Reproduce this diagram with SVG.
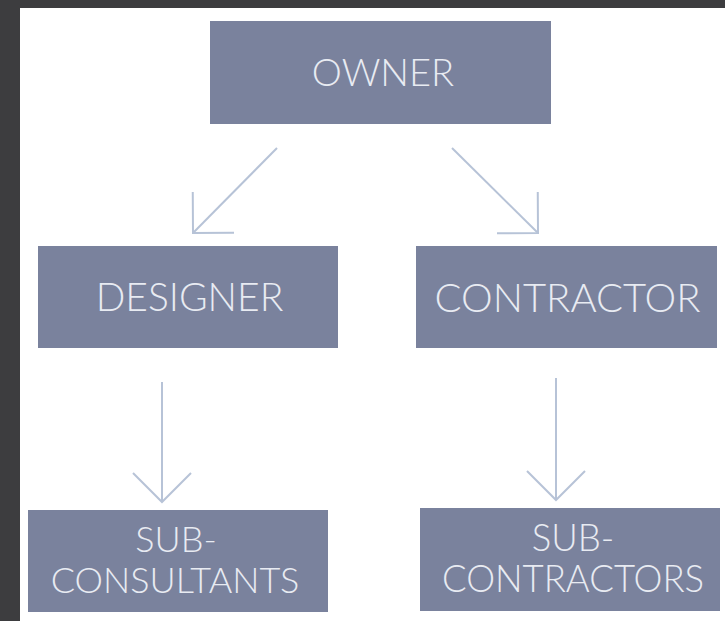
<svg xmlns="http://www.w3.org/2000/svg" width="725" height="621" viewBox="0 0 725 621">
  <defs>
    <style>
      .box { fill: #7a829d; }
      .lbl { font-family: "Lato", "Liberation Sans", sans-serif; font-weight: 300; fill: #e8ebf2; text-anchor: middle; }
      .conn { fill: none; stroke: #b7c3d7; stroke-width: 2; }
    </style>
    <marker id="chev" markerUnits="userSpaceOnUse" viewBox="-31 -31 33 62" refX="0" refY="0" markerWidth="33" markerHeight="62" orient="auto">
      <path d="M-29,-29 L0,0 L-29,29" fill="none" stroke="#b7c3d7" stroke-width="2"/>
    </marker>
  </defs>
  <rect x="0" y="0" width="725" height="621" fill="#ffffff"/>
  <rect x="0" y="0" width="725" height="8" fill="#3d3d3f"/>
  <rect x="0" y="0" width="20" height="621" fill="#3d3d3f"/>

  <g id="connectors">
    <path class="conn" d="M277,148 L193,233" marker-end="url(#chev)"/>
    <path class="conn" d="M452,148 L538,233" marker-end="url(#chev)"/>
    <path class="conn" d="M162,382 L162,502" marker-end="url(#chev)"/>
    <path class="conn" d="M556,378 L556,500" marker-end="url(#chev)"/>
  </g>

  <g id="owner">
    <rect class="box" x="210" y="21" width="341" height="103"/>
    <text class="lbl" x="383" y="86" font-size="38">OWNER</text>
  </g>
  <g id="designer">
    <rect class="box" x="38" y="246" width="300" height="102"/>
    <text class="lbl" x="189.5" y="311" font-size="39">DESIGNER</text>
  </g>
  <g id="contractor">
    <rect class="box" x="416" y="246" width="301" height="102"/>
    <text class="lbl" x="567.5" y="312" font-size="40">CONTRACTOR</text>
  </g>
  <g id="subconsultants">
    <rect class="box" x="28" y="510" width="300" height="102"/>
    <text class="lbl" font-size="36"><tspan x="176" y="552">SUB-</tspan><tspan x="175" y="593">CONSULTANTS</tspan></text>
  </g>
  <g id="subcontractors">
    <rect class="box" x="420" y="508" width="300" height="103"/>
    <text class="lbl" font-size="36.5"><tspan x="573" y="551">SUB-</tspan><tspan x="573" y="592">CONTRACTORS</tspan></text>
  </g>
</svg>
